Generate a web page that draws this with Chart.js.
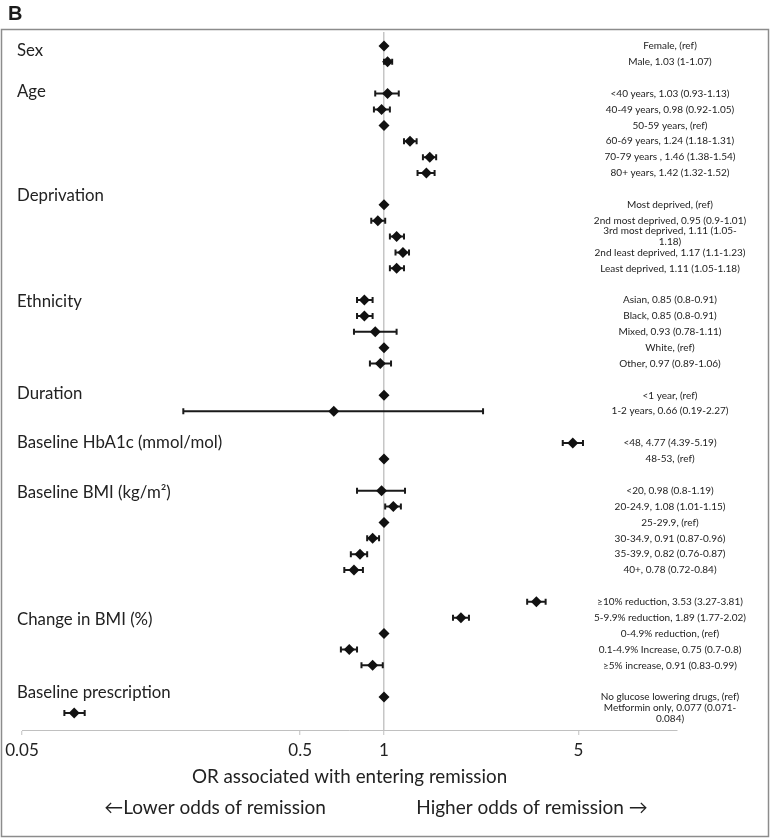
<!DOCTYPE html>
<html>
<head>
<meta charset="utf-8">
<script src="https://cdn.jsdelivr.net/npm/chart.js@4.4.1/dist/chart.umd.min.js"></script>
<style>
  html, body { margin: 0; padding: 0; background: #fff; }
  #wrap { width: 770px; height: 840px; }
</style>
</head>
<body>
<div id="wrap"><canvas id="forestChart" width="770" height="840"></canvas></div>
<script>
// one entry per row, top to bottom; rowIndex is the row on the y axis (gaps between groups)
var rowIndex  = [0, 1,  3, 4, 5, 6, 7, 8,  10, 11, 12, 13, 14,  16, 17, 18, 19, 20,  22, 23,  25, 26,  28, 29, 30, 31, 32, 33,  35, 36, 37, 38, 39,  41, 42];
var oddsRatio = [1, 1.03,  1.03, 0.98, 1, 1.24, 1.46, 1.42,  1, 0.95, 1.11, 1.17, 1.11,  0.85, 0.85, 0.93, 1, 0.97,  1, 0.66,  4.77, 1,  0.98, 1.08, 1, 0.91, 0.82, 0.78,  3.53, 1.89, 1, 0.75, 0.91,  1, 0.077];
var ciLower   = [null, 1,  0.93, 0.92, null, 1.18, 1.38, 1.32,  null, 0.9, 1.05, 1.1, 1.05,  0.8, 0.8, 0.78, null, 0.89,  null, 0.19,  4.39, null,  0.8, 1.01, null, 0.87, 0.76, 0.72,  3.27, 1.77, null, 0.7, 0.83,  null, 0.071];
var ciUpper   = [null, 1.07,  1.13, 1.05, null, 1.31, 1.54, 1.52,  null, 1.01, 1.18, 1.23, 1.18,  0.91, 0.91, 1.11, null, 1.06,  null, 2.27,  5.19, null,  1.19, 1.15, null, 0.96, 0.87, 0.84,  3.81, 2.02, null, 0.8, 0.99,  null, 0.084];

var rowLabels = [
  'Female, (ref)', 'Male, 1.03 (1-1.07)',
  '<40 years, 1.03 (0.93-1.13)', '40-49 years, 0.98 (0.92-1.05)', '50-59 years, (ref)',
  '60-69 years, 1.24 (1.18-1.31)', '70-79 years , 1.46 (1.38-1.54)', '80+ years, 1.42 (1.32-1.52)',
  'Most deprived, (ref)', '2nd most deprived, 0.95 (0.9-1.01)', ['3rd most deprived, 1.11 (1.05-', '1.18)'],
  '2nd least deprived, 1.17 (1.1-1.23)', 'Least deprived, 1.11 (1.05-1.18)',
  'Asian, 0.85 (0.8-0.91)', 'Black, 0.85 (0.8-0.91)', 'Mixed, 0.93 (0.78-1.11)', 'White, (ref)', 'Other, 0.97 (0.89-1.06)',
  '<1 year, (ref)', '1-2 years, 0.66 (0.19-2.27)',
  '<48, 4.77 (4.39-5.19)', '48-53, (ref)',
  '<20, 0.98 (0.8-1.19)', '20-24.9, 1.08 (1.01-1.15)', '25-29.9, (ref)', '30-34.9, 0.91 (0.87-0.96)',
  '35-39.9, 0.82 (0.76-0.87)', '40+, 0.78 (0.72-0.84)',
  '\u226510% reduction, 3.53 (3.27-3.81)', '5-9.9% reduction, 1.89 (1.77-2.02)', '0-4.9% reduction, (ref)',
  '0.1-4.9% Increase, 0.75 (0.7-0.8)', '\u22655% increase, 0.91 (0.83-0.99)',
  'No glucose lowering drugs, (ref)', ['Metformin only, 0.077 (0.071-', '0.084)']
];

var groupNames = ['Sex', 'Age', 'Deprivation', 'Ethnicity', 'Duration', 'Baseline HbA1c (mmol/mol)', 'Baseline BMI (kg/m\u00b2)', 'Change in BMI (%)', 'Baseline prescription'];
var groupRows  = [0.3, 2.9, 9.45, 16.1, 21.9, 25, 28.15, 36.1, 40.7];

var xTicks = [0.05, 0.5, 1, 5];

var FONT = 'Lato, "Open Sans", sans-serif';

var forestPlugin = {
  id: 'forest',
  beforeDatasetsDraw: function(chart) {
    var ctx = chart.ctx, xs = chart.scales.x, ys = chart.scales.y;
    ctx.save();
    ctx.strokeStyle = '#1a1a1a';
    ctx.lineWidth = 2;
    rowIndex.forEach(function(r, i) {
      if (ciLower[i] == null) return;
      var y = ys.getPixelForValue(r);
      var x1 = xs.getPixelForValue(ciLower[i]);
      var x2 = xs.getPixelForValue(ciUpper[i]);
      ctx.beginPath();
      ctx.moveTo(x1, y); ctx.lineTo(x2, y);
      ctx.moveTo(x1, y - 3); ctx.lineTo(x1, y + 3);
      ctx.moveTo(x2, y - 3); ctx.lineTo(x2, y + 3);
      ctx.stroke();
    });
    ctx.restore();
  },
  afterDraw: function(chart) {
    var ctx = chart.ctx, ys = chart.scales.y, area = chart.chartArea;
    ctx.save();

    // labels at the right
    ctx.fillStyle = '#222';
    ctx.font = '10px ' + FONT;
    ctx.textAlign = 'center';
    ctx.textBaseline = 'middle';
    var lx = area.right - 7;
    rowIndex.forEach(function(r, i) {
      var y = ys.getPixelForValue(r);
      var lines = Array.isArray(rowLabels[i]) ? rowLabels[i] : [rowLabels[i]];
      var top = y - (lines.length - 1) * 11 / 2;
      lines.forEach(function(t, k) { ctx.fillText(t, lx, top + k * 11); });
    });

    // group headings
    ctx.fillStyle = '#222';
    ctx.font = '16.8px ' + FONT;
    ctx.textAlign = 'left';
    groupNames.forEach(function(g, i) {
      ctx.fillText(g, 17, ys.getPixelForValue(groupRows[i]));
    });

    // direction hints under the axis title
    ctx.font = '19px ' + FONT;
    ctx.textAlign = 'center';
    ctx.fillText('\u2190Lower odds of remission', 215, 808);
    ctx.fillText('Higher odds of remission \u2192', 532, 808);

    // panel letter and frame
    ctx.font = 'bold 20px "Liberation Sans", Arial, sans-serif';
    ctx.textAlign = 'left';
    ctx.textBaseline = 'alphabetic';
    ctx.fillStyle = '#1a1a1a';
    ctx.fillText('B', 8, 20);

    ctx.strokeStyle = '#8c8c8c';
    ctx.lineWidth = 1.5;
    ctx.strokeRect(1.5, 29.5, 767, 807);
    ctx.restore();
  }
};

var points = rowIndex.map(function(r, i) { return { x: oddsRatio[i], y: r }; });

var ctx = document.getElementById('forestChart').getContext('2d');
var myChart = new Chart(ctx, {
  type: 'scatter',
  data: {
    datasets: [{
      data: points,
      pointStyle: 'rectRot',
      pointRadius: 5.5,
      backgroundColor: '#111',
      borderWidth: 0
    }]
  },
  options: {
    responsive: false,
    animation: false,
    layout: { padding: { left: 22, right: 93, top: 32, bottom: 0 } },
    plugins: { legend: { display: false }, tooltip: { enabled: false } },
    scales: {
      x: {
        type: 'logarithmic',
        min: 0.05,
        max: 11.3,
        afterBuildTicks: function(s) { s.ticks = xTicks.map(function(v) { return { value: v }; }); },
        afterFit: function(s) { s.height = 110; },
        ticks: {
          autoSkip: false,
          maxRotation: 0,
          padding: 5,
          color: '#222',
          font: { family: FONT, size: 17 },
          callback: function(v) { return String(v); }
        },
        grid: {
          color: function(c) { return c.tick && c.tick.value === 1 ? '#c6c6c6' : 'rgba(0,0,0,0)'; },
          lineWidth: 1.5,
          tickLength: 5,
          tickColor: '#c0c0c0',
          tickWidth: 1
        },
        border: { color: '#c0c0c0', width: 1 },
        title: {
          display: true,
          text: 'OR associated with entering remission',
          color: '#222',
          font: { family: FONT, size: 18.8 },
          padding: { top: 0, bottom: 52 }
        }
      },
      y: { type: 'linear', reverse: true, min: -0.88, max: 43.07, display: false }
    }
  },
  plugins: [forestPlugin]
});
</script>
</body>
</html>
